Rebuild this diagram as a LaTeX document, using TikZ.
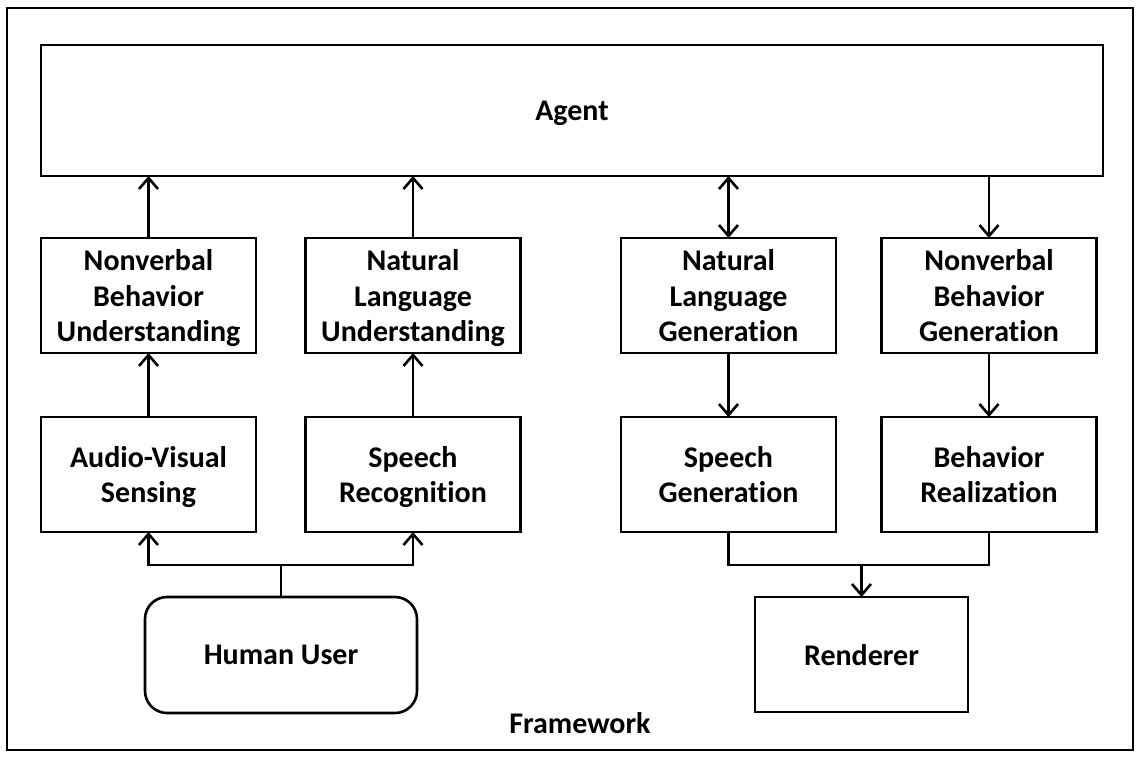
\documentclass[tikz,border=0pt]{standalone}
\usepackage{fontspec}
\setmainfont{Carlito}[Ligatures=NoCommon]
\usetikzlibrary{arrows.meta}
\tikzset{
  blk/.style={draw, line width=2.6pt, inner sep=0pt, outer sep=0pt, align=center,
    text depth=0pt, font=\fontsize{30}{35.5}\selectfont\bfseries},
  cbox/.style={blk, minimum width=215pt, minimum height=115pt},
  conn/.style={line width=2.6pt},
  arr/.style={conn, -{Straight Barb[length=11pt,width=19pt,line width=2.6pt]}},
  darr/.style={conn, {Straight Barb[length=11pt,width=19pt,line width=2.6pt]}-{Straight Barb[length=11pt,width=19pt,line width=2.6pt]}},
  lbl/.style={font=\fontsize{30}{35.5}\selectfont\bfseries, inner sep=0pt}
}
\begin{document}
\begin{tikzpicture}[x=1pt,y=-1pt]
\useasboundingbox (0,0) rectangle (1148,760);
\draw[line width=2.6pt] (7,8) rectangle (1133,750);
\node[blk, minimum width=1062pt, minimum height=131pt] (agent) at (572,110.5) {Agent};
\node[cbox] (nbu) at (148.5,295.5) {Nonverbal\\Behavior\\Understanding};
\node[cbox] (nlu) at (413,295.5) {Natural\\Language\\Understanding};
\node[cbox] (nlg) at (728.5,295.5) {Natural\\Language\\Generation};
\node[cbox] (nbg) at (989,295.5) {Nonverbal\\Behavior\\Generation};
\node[cbox] (avs) at (148.5,474.5) {Audio-Visual\\Sensing};
\node[cbox] (sr) at (413,474.5) {Speech\\Recognition};
\node[cbox] (sg) at (728.5,474.5) {Speech\\Generation};
\node[cbox] (br) at (989,474.5) {Behavior\\Realization};
\node[blk, rounded corners=22pt, minimum width=272pt, minimum height=116pt] (user) at (281,655) {Human User};
\node[blk, minimum width=213pt, minimum height=115pt] (rend) at (861.5,654.5) {Renderer};
\node[lbl] (fw) at (580,723) {Framework};
% arrows to agent
\draw[arr] (nbu.north) -- (nbu.north |- agent.south);
\draw[arr] (nlu.north) -- (nlu.north |- agent.south);
\draw[darr] (nlg.north) -- (nlg.north |- agent.south);
\draw[arr] (nbg.north |- agent.south) -- (nbg.north);
% middle arrows
\draw[arr] (avs.north) -- (nbu.south);
\draw[arr] (sr.north) -- (nlu.south);
\draw[arr] (nlg.south) -- (sg.north);
\draw[arr] (nbg.south) -- (br.north);
% human user
\coordinate (uj) at (281,565);
\draw[conn] (user.north) -- (uj);
\draw[arr] (uj) -| (avs.south);
\draw[arr] (uj) -| (sr.south);
% renderer
\coordinate (rj) at (861.5,565);
\draw[conn] (sg.south) |- (br.south |- rj) -- (br.south);
\draw[arr] (rj) -- (rend.north);
\end{tikzpicture}
\end{document}
